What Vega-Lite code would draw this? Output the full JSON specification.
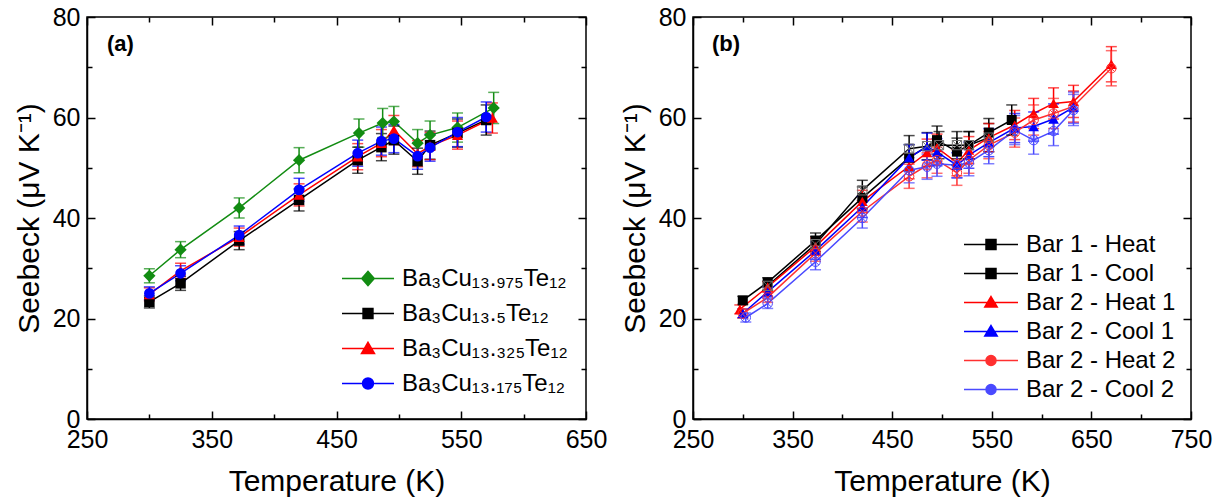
{
  "$schema": "https://vega.github.io/schema/vega-lite/v6.json",
  "background": "white",
  "padding": {"left": 13, "top": 4, "right": 10, "bottom": 2},
  "config": {
    "font": "Liberation Sans",
    "view": {"stroke": "black", "strokeWidth": 1.5},
    "axis": {"labelFont": "Liberation Sans", "labelFontSize": 25, "labelColor": "black", "titleFont": "Liberation Sans", "titleFontSize": 30, "titleFontWeight": "normal", "titleColor": "black", "tickColor": "black", "tickWidth": 1.5, "domainColor": "black", "domainWidth": 1.5, "grid": false, "labelFlush": false, "labelOverlap": false},
    "legend": {"labelFont": "Liberation Sans", "labelFontSize": 24, "labelColor": "black", "labelLimit": 400, "padding": 0, "rowPadding": 0, "labelOffset": 7, "symbolStrokeWidth": 1.5, "symbolOpacity": 1}
  },
  "datasets": {
    "a": [
      {"series": "13.975", "T": 300, "S": 28.5, "err": 1.4},
      {"series": "13.975", "T": 325, "S": 33.7, "err": 1.6},
      {"series": "13.975", "T": 372, "S": 42.0, "err": 2.0},
      {"series": "13.975", "T": 420, "S": 51.5, "err": 2.5},
      {"series": "13.975", "T": 468, "S": 56.9, "err": 2.8},
      {"series": "13.975", "T": 487, "S": 58.9, "err": 2.9},
      {"series": "13.975", "T": 496, "S": 59.2, "err": 3.0},
      {"series": "13.975", "T": 515, "S": 54.9, "err": 2.7},
      {"series": "13.975", "T": 525, "S": 56.5, "err": 2.8},
      {"series": "13.975", "T": 547, "S": 58.0, "err": 2.9},
      {"series": "13.975", "T": 576, "S": 61.9, "err": 3.1},
      {"series": "13.5", "T": 300, "S": 23.3, "err": 1.2},
      {"series": "13.5", "T": 325, "S": 27.0, "err": 1.4},
      {"series": "13.5", "T": 372, "S": 35.5, "err": 1.8},
      {"series": "13.5", "T": 420, "S": 43.6, "err": 2.2},
      {"series": "13.5", "T": 467, "S": 51.5, "err": 2.6},
      {"series": "13.5", "T": 486, "S": 54.1, "err": 2.7},
      {"series": "13.5", "T": 496, "S": 55.5, "err": 2.8},
      {"series": "13.5", "T": 515, "S": 51.3, "err": 2.6},
      {"series": "13.5", "T": 525, "S": 54.5, "err": 2.8},
      {"series": "13.5", "T": 547, "S": 56.9, "err": 2.8},
      {"series": "13.5", "T": 570, "S": 59.5, "err": 3.0},
      {"series": "13.325", "T": 300, "S": 24.8, "err": 1.3},
      {"series": "13.325", "T": 325, "S": 29.5, "err": 1.5},
      {"series": "13.325", "T": 372, "S": 36.2, "err": 1.8},
      {"series": "13.325", "T": 420, "S": 44.6, "err": 2.2},
      {"series": "13.325", "T": 467, "S": 52.2, "err": 2.6},
      {"series": "13.325", "T": 486, "S": 54.9, "err": 2.7},
      {"series": "13.325", "T": 496, "S": 57.5, "err": 2.9},
      {"series": "13.325", "T": 515, "S": 52.8, "err": 2.6},
      {"series": "13.325", "T": 525, "S": 54.3, "err": 2.7},
      {"series": "13.325", "T": 547, "S": 56.5, "err": 2.8},
      {"series": "13.325", "T": 575, "S": 59.9, "err": 3.0},
      {"series": "13.175", "T": 300, "S": 25.0, "err": 1.3},
      {"series": "13.175", "T": 325, "S": 29.0, "err": 1.5},
      {"series": "13.175", "T": 372, "S": 36.6, "err": 1.8},
      {"series": "13.175", "T": 420, "S": 45.6, "err": 2.3},
      {"series": "13.175", "T": 467, "S": 52.9, "err": 2.6},
      {"series": "13.175", "T": 486, "S": 55.3, "err": 2.8},
      {"series": "13.175", "T": 496, "S": 55.8, "err": 2.8},
      {"series": "13.175", "T": 515, "S": 52.3, "err": 2.6},
      {"series": "13.175", "T": 525, "S": 54.0, "err": 2.7},
      {"series": "13.175", "T": 547, "S": 57.1, "err": 2.9},
      {"series": "13.175", "T": 570, "S": 60.1, "err": 3.0}
    ],
    "b": [
      {"series": "Bar 1 - Heat", "T": 300, "S": 23.6, "err": 0.8},
      {"series": "Bar 1 - Heat", "T": 325, "S": 27.2, "err": 0.9},
      {"series": "Bar 1 - Heat", "T": 373, "S": 35.5, "err": 1.5},
      {"series": "Bar 1 - Heat", "T": 420, "S": 44.0, "err": 2.2},
      {"series": "Bar 1 - Heat", "T": 467, "S": 52.0, "err": 2.6},
      {"series": "Bar 1 - Heat", "T": 495, "S": 55.5, "err": 2.8},
      {"series": "Bar 1 - Heat", "T": 515, "S": 53.2, "err": 2.7},
      {"series": "Bar 1 - Heat", "T": 527, "S": 54.5, "err": 2.7},
      {"series": "Bar 1 - Heat", "T": 547, "S": 57.0, "err": 2.8},
      {"series": "Bar 1 - Heat", "T": 570, "S": 59.5, "err": 3.0},
      {"series": "Bar 1 - Cool", "T": 325, "S": 26.5, "err": 0.9},
      {"series": "Bar 1 - Cool", "T": 373, "S": 34.8, "err": 1.5},
      {"series": "Bar 1 - Cool", "T": 420, "S": 45.5, "err": 2.0},
      {"series": "Bar 1 - Cool", "T": 467, "S": 53.8, "err": 2.6},
      {"series": "Bar 1 - Cool", "T": 485, "S": 54.3, "err": 2.7},
      {"series": "Bar 1 - Cool", "T": 497, "S": 54.5, "err": 2.7},
      {"series": "Bar 1 - Cool", "T": 515, "S": 54.5, "err": 2.7},
      {"series": "Bar 1 - Cool", "T": 527, "S": 54.5, "err": 2.7},
      {"series": "Bar 1 - Cool", "T": 547, "S": 56.0, "err": 2.8},
      {"series": "Bar 2 - Heat 1", "T": 297, "S": 21.8, "err": 0.9},
      {"series": "Bar 2 - Heat 1", "T": 325, "S": 26.3, "err": 1.0},
      {"series": "Bar 2 - Heat 1", "T": 373, "S": 34.3, "err": 1.7},
      {"series": "Bar 2 - Heat 1", "T": 420, "S": 43.3, "err": 2.2},
      {"series": "Bar 2 - Heat 1", "T": 467, "S": 50.3, "err": 2.5},
      {"series": "Bar 2 - Heat 1", "T": 485, "S": 53.0, "err": 2.7},
      {"series": "Bar 2 - Heat 1", "T": 495, "S": 54.0, "err": 2.7},
      {"series": "Bar 2 - Heat 1", "T": 515, "S": 51.0, "err": 2.6},
      {"series": "Bar 2 - Heat 1", "T": 527, "S": 53.5, "err": 2.7},
      {"series": "Bar 2 - Heat 1", "T": 547, "S": 56.0, "err": 2.8},
      {"series": "Bar 2 - Heat 1", "T": 573, "S": 58.5, "err": 2.9},
      {"series": "Bar 2 - Heat 1", "T": 592, "S": 60.8, "err": 3.0},
      {"series": "Bar 2 - Heat 1", "T": 612, "S": 62.8, "err": 3.1},
      {"series": "Bar 2 - Heat 1", "T": 632, "S": 63.2, "err": 3.2},
      {"series": "Bar 2 - Heat 1", "T": 670, "S": 70.6, "err": 3.5},
      {"series": "Bar 2 - Cool 1", "T": 300, "S": 21.0, "err": 0.9},
      {"series": "Bar 2 - Cool 1", "T": 325, "S": 25.3, "err": 1.0},
      {"series": "Bar 2 - Cool 1", "T": 373, "S": 33.5, "err": 1.7},
      {"series": "Bar 2 - Cool 1", "T": 420, "S": 42.2, "err": 2.1},
      {"series": "Bar 2 - Cool 1", "T": 467, "S": 52.0, "err": 2.6},
      {"series": "Bar 2 - Cool 1", "T": 485, "S": 54.2, "err": 2.7},
      {"series": "Bar 2 - Cool 1", "T": 495, "S": 53.1, "err": 2.7},
      {"series": "Bar 2 - Cool 1", "T": 515, "S": 50.5, "err": 2.5},
      {"series": "Bar 2 - Cool 1", "T": 527, "S": 52.5, "err": 2.6},
      {"series": "Bar 2 - Cool 1", "T": 547, "S": 55.0, "err": 2.8},
      {"series": "Bar 2 - Cool 1", "T": 573, "S": 57.9, "err": 2.9},
      {"series": "Bar 2 - Cool 1", "T": 592, "S": 58.2, "err": 2.9},
      {"series": "Bar 2 - Cool 1", "T": 612, "S": 59.7, "err": 3.0},
      {"series": "Bar 2 - Cool 1", "T": 632, "S": 62.0, "err": 3.1},
      {"series": "Bar 2 - Heat 2", "T": 300, "S": 21.0, "err": 0.9},
      {"series": "Bar 2 - Heat 2", "T": 325, "S": 24.2, "err": 1.0},
      {"series": "Bar 2 - Heat 2", "T": 373, "S": 33.0, "err": 1.6},
      {"series": "Bar 2 - Heat 2", "T": 420, "S": 41.3, "err": 2.1},
      {"series": "Bar 2 - Heat 2", "T": 467, "S": 48.3, "err": 2.4},
      {"series": "Bar 2 - Heat 2", "T": 485, "S": 50.5, "err": 2.5},
      {"series": "Bar 2 - Heat 2", "T": 495, "S": 51.5, "err": 2.6},
      {"series": "Bar 2 - Heat 2", "T": 515, "S": 49.0, "err": 2.5},
      {"series": "Bar 2 - Heat 2", "T": 527, "S": 51.5, "err": 2.6},
      {"series": "Bar 2 - Heat 2", "T": 547, "S": 54.5, "err": 2.7},
      {"series": "Bar 2 - Heat 2", "T": 573, "S": 57.0, "err": 2.9},
      {"series": "Bar 2 - Heat 2", "T": 592, "S": 59.5, "err": 3.0},
      {"series": "Bar 2 - Heat 2", "T": 612, "S": 60.8, "err": 3.0},
      {"series": "Bar 2 - Heat 2", "T": 632, "S": 62.2, "err": 3.1},
      {"series": "Bar 2 - Heat 2", "T": 670, "S": 69.8, "err": 3.5},
      {"series": "Bar 2 - Cool 2", "T": 303, "S": 20.2, "err": 0.9},
      {"series": "Bar 2 - Cool 2", "T": 325, "S": 23.0, "err": 1.0},
      {"series": "Bar 2 - Cool 2", "T": 373, "S": 31.3, "err": 1.6},
      {"series": "Bar 2 - Cool 2", "T": 420, "S": 40.0, "err": 2.0},
      {"series": "Bar 2 - Cool 2", "T": 467, "S": 49.5, "err": 2.5},
      {"series": "Bar 2 - Cool 2", "T": 485, "S": 50.2, "err": 2.5},
      {"series": "Bar 2 - Cool 2", "T": 495, "S": 50.8, "err": 2.5},
      {"series": "Bar 2 - Cool 2", "T": 515, "S": 50.5, "err": 2.5},
      {"series": "Bar 2 - Cool 2", "T": 527, "S": 51.0, "err": 2.6},
      {"series": "Bar 2 - Cool 2", "T": 547, "S": 53.5, "err": 2.7},
      {"series": "Bar 2 - Cool 2", "T": 573, "S": 57.5, "err": 2.9},
      {"series": "Bar 2 - Cool 2", "T": 592, "S": 55.5, "err": 2.8},
      {"series": "Bar 2 - Cool 2", "T": 612, "S": 57.3, "err": 2.9},
      {"series": "Bar 2 - Cool 2", "T": 632, "S": 61.5, "err": 3.1}
    ]
  },
  "spacing": 11,
  "resolve": {"scale": {"color": "independent", "fill": "independent", "shape": "independent", "x": "independent", "y": "independent"}},
  "hconcat": [
    {
      "width": 499,
      "height": 402,
      "data": {"name": "a"},
      "resolve": {"axis": {"x": "independent", "y": "independent"}},
      "layer": [
        {
          "mark": {"type": "line", "strokeWidth": 1.5},
          "encoding": {
            "x": {"field": "T", "type": "quantitative", "scale": {"domain": [250, 650], "nice": false, "zero": false},
              "axis": {"orient": "bottom", "values": [250, 300, 350, 400, 450, 500, 550, 600, 650], "labelExpr": "datum.value % 100 == 50 ? datum.label : ''", "tickSize": {"condition": {"test": "datum.value % 100 == 50", "value": -8}, "value": -5}, "labelPadding": 16, "title": "Temperature (K)", "titlePadding": 11}},
            "y": {"field": "S", "type": "quantitative", "scale": {"domain": [0, 80], "nice": false},
              "axis": {"orient": "left", "values": [0, 10, 20, 30, 40, 50, 60, 70, 80], "labelExpr": "datum.value % 20 == 0 ? datum.label : ''", "tickSize": {"condition": {"test": "datum.value % 20 == 0", "value": -8}, "value": -5}, "labelPadding": 15, "title": "Seebeck (μV K⁻¹)", "titlePadding": 8}},
            "color": {"field": "series", "type": "nominal",
              "scale": {"domain": ["13.975", "13.5", "13.325", "13.175"], "range": ["#128c12", "#000000", "#ff0000", "#0000ff"]}}
          }
        },
        {
          "mark": {"type": "errorbar", "ticks": true, "size": 11, "thickness": 1.5},
          "encoding": {
            "x": {"field": "T", "type": "quantitative", "axis": null},
            "y": {"field": "S", "type": "quantitative", "axis": null},
            "yError": {"field": "err"},
            "color": {"field": "series", "type": "nominal"}
          }
        },
        {
          "transform": [{"filter": {"field": "series", "equal": "13.975"}}],
          "mark": {"type": "point", "filled": true, "opacity": 1, "shape": "diamond", "size": 150},
          "encoding": {
            "x": {"field": "T", "type": "quantitative", "axis": {"orient": "top", "values": [250, 300, 350, 400, 450, 500, 550, 600, 650], "labels": false, "domain": false, "title": null, "tickSize": {"condition": {"test": "datum.value % 100 == 50", "value": -8}, "value": -5}}},
            "y": {"field": "S", "type": "quantitative", "axis": {"orient": "right", "values": [0, 10, 20, 30, 40, 50, 60, 70, 80], "labels": false, "domain": false, "title": null, "tickSize": {"condition": {"test": "datum.value % 20 == 0", "value": -8}, "value": -5}}},
            "fill": {"field": "series", "type": "nominal", "legend": null,
              "scale": {"domain": ["13.975", "13.5", "13.325", "13.175"], "range": ["#128c12", "#000000", "#ff0000", "#0000ff"]}}
          }
        },
        {
          "transform": [{"filter": {"field": "series", "equal": "13.5"}}],
          "mark": {"type": "point", "filled": true, "opacity": 1, "shape": "square", "size": 110},
          "encoding": {
            "x": {"field": "T", "type": "quantitative", "axis": null},
            "y": {"field": "S", "type": "quantitative", "axis": null},
            "fill": {"field": "series", "type": "nominal", "legend": null}
          }
        },
        {
          "transform": [{"filter": {"field": "series", "equal": "13.325"}}],
          "mark": {"type": "point", "filled": true, "opacity": 1, "shape": "triangle-up", "size": 125},
          "encoding": {
            "x": {"field": "T", "type": "quantitative", "axis": null},
            "y": {"field": "S", "type": "quantitative", "axis": null},
            "fill": {"field": "series", "type": "nominal", "legend": null}
          }
        },
        {
          "transform": [{"filter": {"field": "series", "equal": "13.175"}}],
          "mark": {"type": "point", "filled": true, "opacity": 1, "shape": "circle", "size": 115},
          "encoding": {
            "x": {"field": "T", "type": "quantitative", "axis": null},
            "y": {"field": "S", "type": "quantitative", "axis": null},
            "fill": {"field": "series", "type": "nominal", "legend": null}
          }
        },
        {
          "mark": {"type": "point", "filled": false, "opacity": 0, "strokeWidth": 1.5},
          "encoding": {
            "x": {"field": "T", "type": "quantitative", "axis": null},
            "y": {"field": "S", "type": "quantitative", "axis": null},
            "color": {"field": "series", "type": "nominal",
              "legend": {"orient": "bottom-right", "offset": 18, "title": null, "symbolSize": 2704, "clipHeight": 35,
                "labelExpr": "datum.value == '13.975' ? 'Ba₃Cu₁₃.₉₇₅Te₁₂' : datum.value == '13.5' ? 'Ba₃Cu₁₃.₅Te₁₂' : datum.value == '13.325' ? 'Ba₃Cu₁₃.₃₂₅Te₁₂' : 'Ba₃Cu₁₃.₁₇₅Te₁₂'"}},
            "shape": {"field": "series", "type": "nominal",
              "scale": {"domain": ["13.975", "13.5", "13.325", "13.175"], "range": [
                "M-1,0L1,0M-0.24,0L0,-0.27L0.24,0L0,0.27ZM-0.204,-0.04L0.204,-0.04M-0.204,0.04L0.204,0.04M-0.169,-0.08L0.169,-0.08M-0.169,0.08L0.169,0.08M-0.133,-0.12L0.133,-0.12M-0.133,0.12L0.133,0.12M-0.098,-0.16L0.098,-0.16M-0.098,0.16L0.098,0.16M-0.062,-0.2L0.062,-0.2M-0.062,0.2L0.062,0.2M-0.027,-0.24L0.027,-0.24M-0.027,0.24L0.027,0.24",
                "M-1,0L1,0M-0.19,-0.19L0.19,-0.19L0.19,0.19L-0.19,0.19ZM-0.19,-0.15L0.19,-0.15M-0.19,-0.1L0.19,-0.1M-0.19,-0.05L0.19,-0.05M-0.19,0.05L0.19,0.05M-0.19,0.1L0.19,0.1M-0.19,0.15L0.19,0.15",
                "M-1,0L1,0M0,-0.24L0.25,0.19L-0.25,0.19ZM-0.023,-0.2L0.023,-0.2M-0.047,-0.16L0.047,-0.16M-0.07,-0.12L0.07,-0.12M-0.093,-0.08L0.093,-0.08M-0.116,-0.04L0.116,-0.04M-0.163,0.04L0.163,0.04M-0.186,0.08L0.186,0.08M-0.209,0.12L0.209,0.12M-0.233,0.16L0.233,0.16",
                "M-1,0L1,0M-0.21,0A0.21,0.21,0,1,0,0.21,0A0.21,0.21,0,1,0,-0.21,0ZM-0.206,-0.04L0.206,-0.04M-0.206,0.04L0.206,0.04M-0.194,-0.08L0.194,-0.08M-0.194,0.08L0.194,0.08M-0.172,-0.12L0.172,-0.12M-0.172,0.12L0.172,0.12M-0.136,-0.16L0.136,-0.16M-0.136,0.16L0.136,0.16M-0.089,-0.19L0.089,-0.19M-0.089,0.19L0.089,0.19"]},
              "legend": {"orient": "bottom-right", "offset": 18, "title": null, "symbolSize": 2704, "clipHeight": 35,
                "labelExpr": "datum.value == '13.975' ? 'Ba₃Cu₁₃.₉₇₅Te₁₂' : datum.value == '13.5' ? 'Ba₃Cu₁₃.₅Te₁₂' : datum.value == '13.325' ? 'Ba₃Cu₁₃.₃₂₅Te₁₂' : 'Ba₃Cu₁₃.₁₇₅Te₁₂'"}}
          }
        },
        {
          "data": {"values": [{"T": 266, "S": 74.6, "label": "(a)"}]},
          "mark": {"type": "text", "fontWeight": "bold", "fontSize": 22, "align": "left", "baseline": "middle", "font": "Liberation Sans", "color": "black"},
          "encoding": {
            "x": {"field": "T", "type": "quantitative", "axis": null},
            "y": {"field": "S", "type": "quantitative", "axis": null},
            "text": {"field": "label"}
          }
        }
      ]
    },
    {
      "width": 498,
      "height": 402,
      "data": {"name": "b"},
      "resolve": {"axis": {"x": "independent", "y": "independent"}},
      "layer": [
        {
          "mark": {"type": "line", "strokeWidth": 1.5},
          "encoding": {
            "x": {"field": "T", "type": "quantitative", "scale": {"domain": [250, 750], "nice": false, "zero": false},
              "axis": {"orient": "bottom", "values": [250, 300, 350, 400, 450, 500, 550, 600, 650, 700, 750], "labelExpr": "datum.value % 100 == 50 ? datum.label : ''", "tickSize": {"condition": {"test": "datum.value % 100 == 50", "value": -8}, "value": -5}, "labelPadding": 16, "title": "Temperature (K)", "titlePadding": 11}},
            "y": {"field": "S", "type": "quantitative", "scale": {"domain": [0, 80], "nice": false},
              "axis": {"orient": "left", "values": [0, 10, 20, 30, 40, 50, 60, 70, 80], "labelExpr": "datum.value % 20 == 0 ? datum.label : ''", "tickSize": {"condition": {"test": "datum.value % 20 == 0", "value": -8}, "value": -5}, "labelPadding": 15, "title": "Seebeck (μV K⁻¹)", "titlePadding": 8}},
            "color": {"field": "series", "type": "nominal",
              "scale": {"domain": ["Bar 1 - Heat", "Bar 1 - Cool", "Bar 2 - Heat 1", "Bar 2 - Cool 1", "Bar 2 - Heat 2", "Bar 2 - Cool 2"], "range": ["#000000", "#000000", "#ff0000", "#0000ff", "#ff3030", "#4a4aff"]}}
          }
        },
        {
          "mark": {"type": "errorbar", "ticks": true, "size": 11, "thickness": 1.5},
          "encoding": {
            "x": {"field": "T", "type": "quantitative", "axis": null},
            "y": {"field": "S", "type": "quantitative", "axis": null},
            "yError": {"field": "err"},
            "color": {"field": "series", "type": "nominal"}
          }
        },
        {
          "transform": [{"filter": {"field": "series", "equal": "Bar 1 - Heat"}}],
          "mark": {"type": "point", "filled": true, "opacity": 1, "shape": "square", "size": 100},
          "encoding": {
            "x": {"field": "T", "type": "quantitative", "axis": {"orient": "top", "values": [250, 300, 350, 400, 450, 500, 550, 600, 650, 700, 750], "labels": false, "domain": false, "title": null, "tickSize": {"condition": {"test": "datum.value % 100 == 50", "value": -8}, "value": -5}}},
            "y": {"field": "S", "type": "quantitative", "axis": {"orient": "right", "values": [0, 10, 20, 30, 40, 50, 60, 70, 80], "labels": false, "domain": false, "title": null, "tickSize": {"condition": {"test": "datum.value % 20 == 0", "value": -8}, "value": -5}}},
            "fill": {"field": "series", "type": "nominal", "legend": null,
              "scale": {"domain": ["Bar 1 - Heat", "Bar 1 - Cool", "Bar 2 - Heat 1", "Bar 2 - Cool 1", "Bar 2 - Heat 2", "Bar 2 - Cool 2"], "range": ["#000000", "#000000", "#ff0000", "#0000ff", "#ff3030", "#4a4aff"]}}
          }
        },
        {
          "transform": [{"filter": {"field": "series", "oneOf": ["Bar 2 - Heat 1", "Bar 2 - Cool 1"]}}],
          "mark": {"type": "point", "filled": true, "opacity": 1, "shape": "triangle-up", "size": 115},
          "encoding": {
            "x": {"field": "T", "type": "quantitative", "axis": null},
            "y": {"field": "S", "type": "quantitative", "axis": null},
            "fill": {"field": "series", "type": "nominal", "legend": null}
          }
        },
        {
          "transform": [{"filter": {"field": "series", "equal": "Bar 1 - Cool"}}],
          "mark": {"type": "point", "filled": false, "opacity": 1, "strokeWidth": 1, "size": 85, "color": "#707070", "shape": "M-1,-1L1,-1L1,1L-1,1ZM-1,-1L1,1M1,-1L-1,1"},
          "encoding": {
            "x": {"field": "T", "type": "quantitative", "axis": null},
            "y": {"field": "S", "type": "quantitative", "axis": null}
          }
        },
        {
          "transform": [{"filter": {"field": "series", "oneOf": ["Bar 2 - Heat 2", "Bar 2 - Cool 2"]}}],
          "mark": {"type": "point", "filled": false, "opacity": 1, "strokeWidth": 1, "size": 90, "shape": "M-1,0A1,1,0,1,0,1,0A1,1,0,1,0,-1,0ZM-0.7,-0.7L0.7,0.7M0.7,-0.7L-0.7,0.7"},
          "encoding": {
            "x": {"field": "T", "type": "quantitative", "axis": null},
            "y": {"field": "S", "type": "quantitative", "axis": null},
            "color": {"field": "series", "type": "nominal"}
          }
        },
        {
          "mark": {"type": "point", "filled": false, "opacity": 0, "strokeWidth": 1.5},
          "encoding": {
            "x": {"field": "T", "type": "quantitative", "axis": null},
            "y": {"field": "S", "type": "quantitative", "axis": null},
            "color": {"field": "series", "type": "nominal",
              "legend": {"orient": "bottom-right", "offset": 15, "title": null, "symbolSize": 2916, "clipHeight": 29}},
            "shape": {"field": "series", "type": "nominal",
              "scale": {"domain": ["Bar 1 - Heat", "Bar 1 - Cool", "Bar 2 - Heat 1", "Bar 2 - Cool 1", "Bar 2 - Heat 2", "Bar 2 - Cool 2"], "range": [
                "M-1,0L1,0M-0.185,-0.185L0.185,-0.185L0.185,0.185L-0.185,0.185ZM-0.185,-0.14L0.185,-0.14M-0.185,-0.095L0.185,-0.095M-0.185,-0.05L0.185,-0.05M-0.185,0.05L0.185,0.05M-0.185,0.095L0.185,0.095M-0.185,0.14L0.185,0.14",
                "M-1,0L-0.185,0M0.185,0L1,0M-0.185,-0.185L0.185,-0.185L0.185,0.185L-0.185,0.185ZM-0.185,-0.185L0.185,0.185M0.185,-0.185L-0.185,0.185",
                "M-1,0L1,0M0,-0.22L0.23,0.17L-0.23,0.17ZM-0.024,-0.18L0.024,-0.18M-0.047,-0.14L0.047,-0.14M-0.071,-0.1L0.071,-0.1M-0.094,-0.06L0.094,-0.06M-0.118,-0.02L0.118,-0.02M-0.142,0.02L0.142,0.02M-0.165,0.06L0.165,0.06M-0.189,0.1L0.189,0.1M-0.212,0.14L0.212,0.14",
                "M-1,0L1,0M0,-0.22L0.23,0.17L-0.23,0.17ZM-0.024,-0.18L0.024,-0.18M-0.047,-0.14L0.047,-0.14M-0.071,-0.1L0.071,-0.1M-0.094,-0.06L0.094,-0.06M-0.118,-0.02L0.118,-0.02M-0.142,0.02L0.142,0.02M-0.165,0.06L0.165,0.06M-0.189,0.1L0.189,0.1M-0.212,0.14L0.212,0.14",
                "M-1,0L-0.185,0M0.185,0L1,0M-0.185,0A0.185,0.185,0,1,0,0.185,0A0.185,0.185,0,1,0,-0.185,0ZM-0.13,-0.13L0.13,0.13M0.13,-0.13L-0.13,0.13",
                "M-1,0L-0.185,0M0.185,0L1,0M-0.185,0A0.185,0.185,0,1,0,0.185,0A0.185,0.185,0,1,0,-0.185,0ZM-0.13,-0.13L0.13,0.13M0.13,-0.13L-0.13,0.13"]},
              "legend": {"orient": "bottom-right", "offset": 15, "title": null, "symbolSize": 2916, "clipHeight": 29}}
          }
        },
        {
          "data": {"values": [{"T": 269, "S": 74.6, "label": "(b)"}]},
          "mark": {"type": "text", "fontWeight": "bold", "fontSize": 22, "align": "left", "baseline": "middle", "font": "Liberation Sans", "color": "black"},
          "encoding": {
            "x": {"field": "T", "type": "quantitative", "axis": null},
            "y": {"field": "S", "type": "quantitative", "axis": null},
            "text": {"field": "label"}
          }
        }
      ]
    }
  ]
}
